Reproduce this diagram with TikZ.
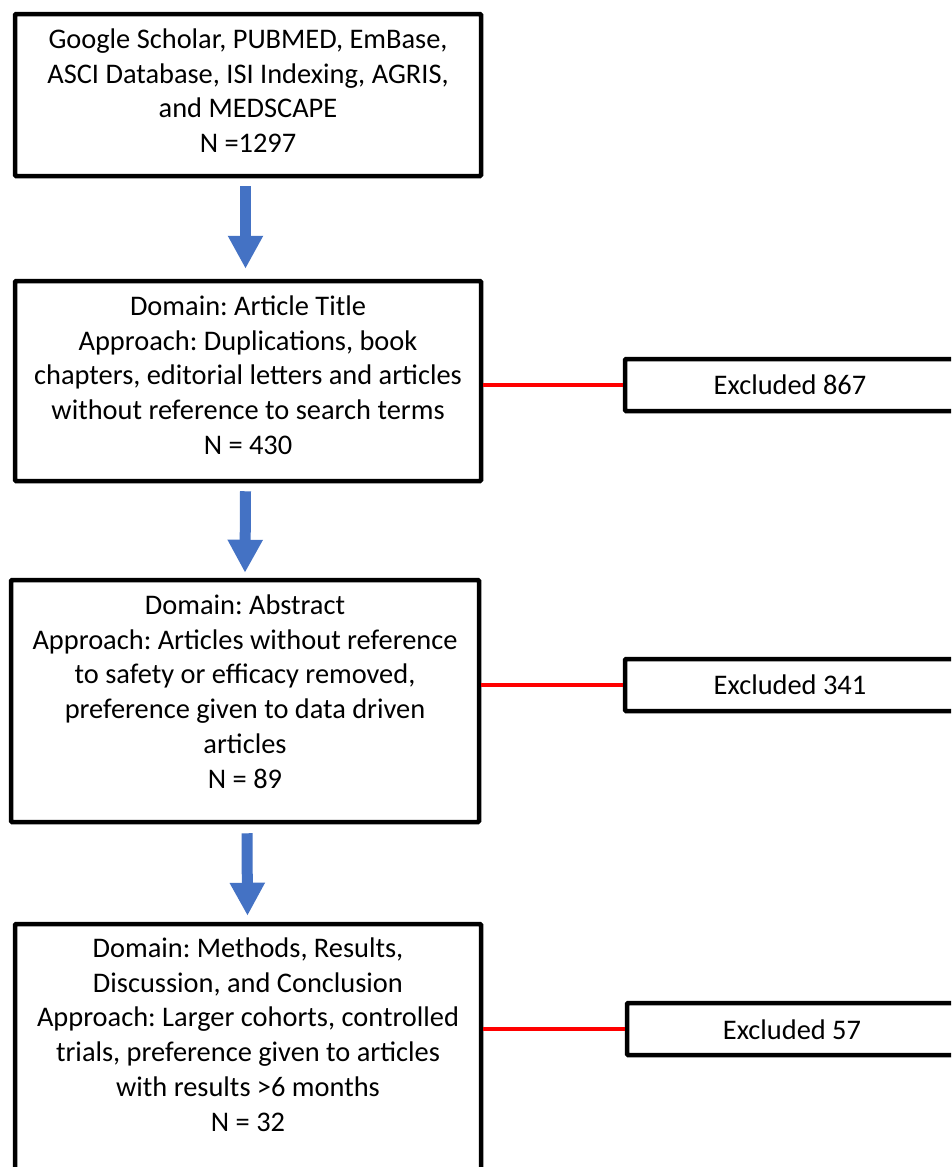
\documentclass[tikz,border=0pt]{standalone}
\usepackage{fontspec}
\setmainfont{Carlito}
\usetikzlibrary{arrows.meta}
\definecolor{arrowblue}{HTML}{4472C4}
\definecolor{linered}{HTML}{FF0000}
\tikzset{
  box/.style={draw=black, line width=4.5pt, rounded corners=1pt, inner sep=0pt, fill=white},
  txt/.style={align=center, font=\fontsize{28.4}{34.7}\selectfont\frenchspacing, inner sep=0pt},
  blockarrow/.style={draw=arrowblue, line width=11pt, -{Triangle[width=33pt,length=33pt]}},
  redline/.style={draw=linered, line width=3.5pt}
}
\begin{document}
\frenchspacing
\begin{tikzpicture}[x=1pt,y=-1pt]
\useasboundingbox (0,0) rectangle (951,1167);
\clip (0,0) rectangle (951,1167);
\fill[white] (0,0) rectangle (951,1167);
% main boxes
\node[box, minimum width=466pt, minimum height=162pt] (b1) at (248,95) {};
\node[box, minimum width=466pt, minimum height=200pt] (b2) at (248,381) {};
\node[box, minimum width=468pt, minimum height=242pt] (b3) at (245,701) {};
\node[box, minimum width=466pt, minimum height=300pt] (b4) at (248,1074) {};
% excluded boxes
\node[box, minimum width=372pt, minimum height=52pt] (e1) at (811,385) {};
\node[box, minimum width=372pt, minimum height=52pt] (e2) at (811,685) {};
\node[box, minimum width=372pt, minimum height=52pt] (e3) at (813,1029) {};
% texts
\node[txt] (t1) at (248,90.5) {Google Scholar, PUBMED, EmBase,\\ASCI Database, ISI Indexing, AGRIS,\\and MEDSCAPE\\N =1297};
\node[txt] (t2) at (248,375) {Domain: Article Title\\Approach: Duplications, book\\chapters, editorial letters and articles\\without reference to search terms\\N = 430};
\node[txt] (t3) at (245,691.5) {Domain: Abstract\\Approach: Articles without reference\\to safety or efficacy removed,\\preference given to data driven\\articles\\N = 89};
\node[txt] (t4) at (248,1034.5) {Domain: Methods, Results,\\Discussion, and Conclusion\\Approach: Larger cohorts, controlled\\trials, preference given to articles\\with results >6 months\\N = 32};
\node[txt] (te1) at (790,385) {Excluded 867};
\node[txt] (te2) at (790,685) {Excluded 341};
\node[txt] (te3) at (792,1030) {Excluded 57};
% arrows
\draw[blockarrow] ([xshift=-2.5pt,yshift=-8pt]b1.south) -- ([xshift=-2.5pt,yshift=10pt]b2.north);
\draw[blockarrow] ([xshift=-2.5pt,yshift=-8pt]b2.south) -- ([xshift=0pt,yshift=5pt]b3.north);
\draw[blockarrow] ([xshift=2pt,yshift=-9pt]b3.south) -- ([xshift=-0.5pt,yshift=6pt]b4.north);
% red connectors
\draw[redline] (e1.west -| b2.east) -- (e1.west);
\draw[redline] (e2.west -| b3.east) -- (e2.west);
\draw[redline] (e3.west -| b4.east) -- (e3.west);
\end{tikzpicture}
\end{document}
